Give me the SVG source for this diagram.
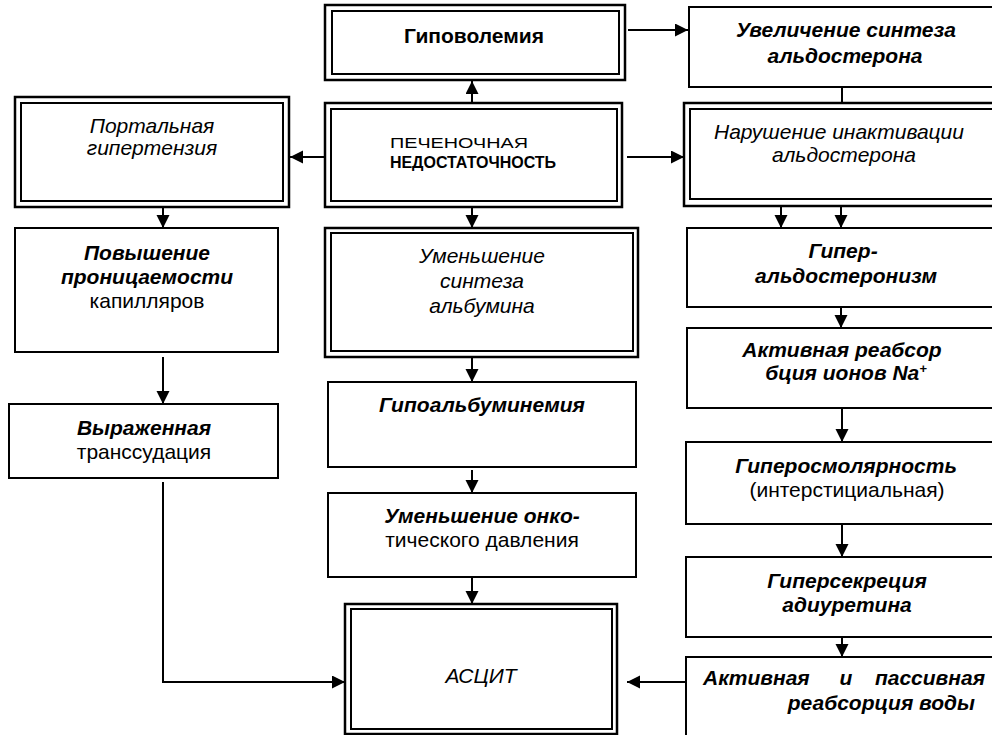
<svg xmlns="http://www.w3.org/2000/svg" width="992" height="735" viewBox="0 0 992 735">
<defs>
<marker id="ah" markerUnits="userSpaceOnUse" markerWidth="14" markerHeight="14" refX="13" refY="6.5" orient="auto">
<path d="M0,0 L13,6.5 L0,13 z" fill="#000"/>
</marker>
<style>
.b{fill:#fff;stroke:#000;stroke-width:2}
.o{fill:#fff;stroke:#000;stroke-width:2.5}
.i{fill:none;stroke:#000;stroke-width:2}
.c{fill:none;stroke:#000;stroke-width:2}
.a{marker-end:url(#ah)}
text{font-family:"Liberation Sans",Arial,sans-serif;font-size:21px;fill:#000;text-anchor:middle}
.bi{font-weight:bold;font-style:italic}
.it{font-style:italic}
.bd{font-weight:bold}
</style>
</defs>
<rect width="992" height="735" fill="#fff"/>
<g id="connectors">
<line class="c a" x1="628" y1="30" x2="688" y2="30"/>
<line class="c a" x1="472" y1="103" x2="472" y2="81"/>
<line class="c a" x1="325" y1="157" x2="290" y2="157"/>
<line class="c a" x1="627" y1="157" x2="684" y2="157"/>
<line class="c" x1="842" y1="87" x2="842" y2="103"/>
<line class="c a" x1="781" y1="206" x2="781" y2="228"/>
<line class="c a" x1="841" y1="206" x2="841" y2="228"/>
<line class="c a" x1="163" y1="207" x2="163" y2="228"/>
<line class="c a" x1="472" y1="207" x2="472" y2="228"/>
<line class="c a" x1="163" y1="357" x2="163" y2="404"/>
<line class="c a" x1="472" y1="357" x2="472" y2="382"/>
<line class="c a" x1="472" y1="470" x2="472" y2="493"/>
<line class="c a" x1="472" y1="577" x2="472" y2="604"/>
<line class="c a" x1="841" y1="307" x2="841" y2="328"/>
<line class="c a" x1="842" y1="408" x2="842" y2="442"/>
<line class="c a" x1="842" y1="524" x2="842" y2="557"/>
<line class="c a" x1="842" y1="637" x2="842" y2="657"/>
<line class="c a" x1="686" y1="682" x2="627" y2="682"/>
<polyline class="c a" points="163,482 163,682 345,682"/>
</g>
<g id="n-gipovolemia">
<rect class="o" x="325" y="5" width="300" height="75"/>
<rect class="i" x="332" y="11" width="287" height="63"/>
<text class="bd" x="474" y="43">Гиповолемия</text>
</g>
<g id="n-uvelichenie">
<rect class="b" x="689" y="7" width="320" height="80"/>
<text class="bi" x="846" y="37">Увеличение синтеза</text>
<text class="bi" x="845" y="63">альдостерона</text>
</g>
<g id="n-portalnaya">
<rect class="o" x="15" y="97" width="274" height="110"/>
<rect class="i" x="21" y="103" width="262" height="98"/>
<text class="it" x="152" y="133">Портальная</text>
<text class="it" x="152" y="155">гипертензия</text>
</g>
<g id="n-pechenochnaya">
<rect class="o" x="325" y="103" width="297" height="104"/>
<rect class="i" x="331" y="109" width="286" height="92"/>
<text x="459" y="148" style="font-size:14.5px" textLength="138" lengthAdjust="spacingAndGlyphs">ПЕЧЕНОЧНАЯ</text>
<text class="bd" x="473" y="168" style="font-size:16px">НЕДОСТАТОЧНОСТЬ</text>
</g>
<g id="n-narushenie">
<rect class="o" x="684" y="103" width="330" height="103"/>
<rect class="i" x="690" y="109" width="330" height="90"/>
<text class="it" x="839" y="139">Нарушение инактивации</text>
<text class="it" x="844" y="162">альдостерона</text>
</g>
<g id="n-povyshenie">
<rect class="b" x="15" y="228" width="263" height="124"/>
<text class="bi" x="147" y="260">Повышение</text>
<text class="bi" x="147" y="284">проницаемости</text>
<text x="147" y="308">капилляров</text>
</g>
<g id="n-umenshenie-sinteza">
<rect class="o" x="325" y="228" width="313" height="129"/>
<rect class="i" x="331" y="233" width="302" height="118"/>
<text class="it" x="482" y="263">Уменьшение</text>
<text class="it" x="482" y="288">синтеза</text>
<text class="it" x="482" y="313">альбумина</text>
</g>
<g id="n-giperaldosteronizm">
<rect class="b" x="687" y="228" width="320" height="79"/>
<text class="bi" x="843" y="258">Гипер-</text>
<text class="bi" x="846" y="283">альдостеронизм</text>
</g>
<g id="n-vyrazhennaya">
<rect class="b" x="9" y="404" width="269" height="74"/>
<text class="bi" x="144" y="435">Выраженная</text>
<text x="144" y="459">транссудация</text>
</g>
<g id="n-gipoalbuminemiya">
<rect class="b" x="328" y="382" width="308" height="85"/>
<text class="bi" x="482" y="412">Гипоальбуминемия</text>
</g>
<g id="n-reabsorbciya-na">
<rect class="b" x="687" y="328" width="320" height="80"/>
<text class="bi" x="842" y="357">Активная реабсор</text>
<text class="bi" x="846" y="380">бция ионов Na<tspan style="font-size:13px" dy="-7">+</tspan></text>
</g>
<g id="n-giperosmolyarnost">
<rect class="b" x="686" y="442" width="320" height="82"/>
<text class="bi" x="846" y="473">Гиперосмолярность</text>
<text x="847" y="497">(интерстициальная)</text>
</g>
<g id="n-umenshenie-onko">
<rect class="b" x="328" y="493" width="308" height="84"/>
<text class="bi" x="482" y="523">Уменьшение онко-</text>
<text x="482" y="547">тического давления</text>
</g>
<g id="n-gipersekreciya">
<rect class="b" x="686" y="557" width="320" height="80"/>
<text class="bi" x="847" y="588">Гиперсекреция</text>
<text class="bi" x="847" y="612">адиуретина</text>
</g>
<g id="n-ascit">
<rect class="o" x="345" y="604" width="272" height="130"/>
<rect class="i" x="351" y="609" width="261" height="120"/>
<text class="it" x="481" y="683">АСЦИТ</text>
</g>
<g id="n-reabsorbciya-vody">
<rect class="b" x="686" y="657" width="320" height="90"/>
<text class="bi" x="703" y="685" style="text-anchor:start">Активная</text>
<text class="bi" x="846" y="685">и</text>
<text class="bi" x="985" y="685" style="text-anchor:end">пассивная</text>
<text class="bi" x="975" y="710" style="text-anchor:end">реабсорция воды</text>
</g>
</svg>
